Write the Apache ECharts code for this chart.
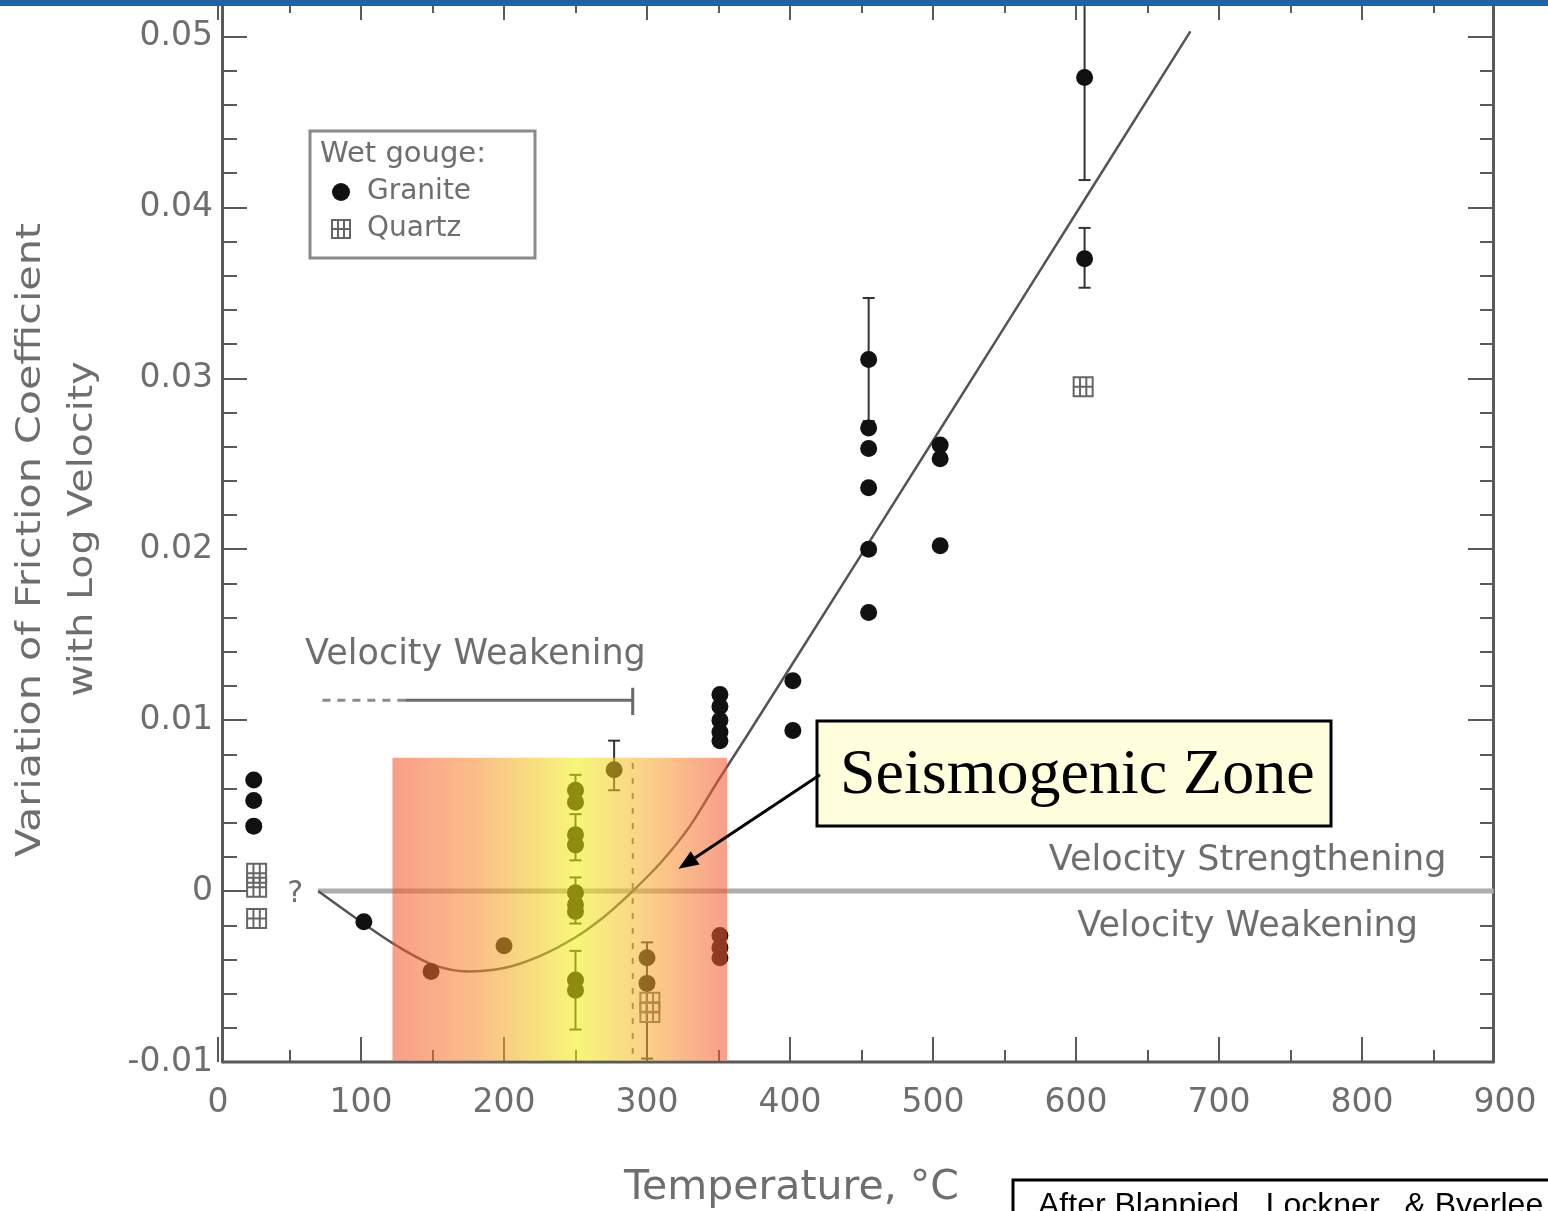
<!DOCTYPE html>
<html>
<head>
<meta charset="utf-8">
<script src="https://cdn.jsdelivr.net/npm/echarts@6/dist/echarts.min.js"></script>
<style>
html,body{margin:0;padding:0;background:#fff;}
#c{width:1548px;height:1211px;}
</style>
</head>
<body>
<div id="c"></div>
<script>
// ---------------- data ----------------
const xTickValues = [0, 100, 200, 300, 400, 500, 600, 700, 800, 900];
const yTickValues = [-0.01, 0, 0.01, 0.02, 0.03, 0.04, 0.05];

const graniteTemps = [25, 25, 25, 102, 149, 200,
  250, 250, 250, 250, 250, 250, 250, 250, 250,
  277, 300, 300,
  351, 351, 351, 351, 351, 351, 351, 351,
  402, 402,
  455, 455, 455, 455, 455, 455,
  505, 505, 505,
  606, 606];
const graniteValues = [0.0065, 0.0053, 0.0038, -0.0018, -0.0047, -0.0032,
  0.0059, 0.0052, 0.0033, 0.0027, -0.0001, -0.0008, -0.0012, -0.0052, -0.0058,
  0.0071, -0.0039, -0.0054,
  0.0115, 0.0108, 0.0100, 0.0093, 0.0088, -0.0026, -0.0033, -0.0039,
  0.0123, 0.0094,
  0.0311, 0.0271, 0.0259, 0.0236, 0.0200, 0.0163,
  0.0261, 0.0253, 0.0202,
  0.0476, 0.0370];

const quartzTemps = [27, 27, 27, 302, 302, 605];
const quartzValues = [0.00105, 0.00023, -0.0016, -0.0065, -0.0071, 0.0295];

// error bars: temperature, low, high
const errTemps = [606, 606, 455, 277, 250, 250, 250, 250, 300];
const errLow   = [0.0416, 0.0353, 0.0275, 0.0059, 0.0050, 0.0018, -0.0019, -0.0081, -0.0098];
const errHigh  = [0.0560, 0.0388, 0.0347, 0.0088, 0.0068, 0.0045, 0.0008, -0.0035, -0.0030];

// fitted trend curve
const curveTemps  = [70, 100, 125, 150, 175, 200, 225, 250, 270, 290, 310, 330, 350, 370, 450, 550, 680];
const curveValues = [0.0000, -0.0018, -0.0032, -0.0043, -0.0047, -0.0045, -0.0038, -0.0027, -0.0015, 0.0000, 0.0017, 0.0038, 0.0065, 0.0091, 0.0197, 0.0330, 0.0503];

// zero (strengthening / weakening) boundary
const zeroLineTemps = [70, 892];
const zeroLineValues = [0, 0];

// velocity weakening bracket
const bracketDashTemps = [73, 131];
const bracketSolidTemps = [131, 290];
const bracketLevel = 0.01117;
const bracketEndTick = [0.0119, 0.0103];
const dashedDropTemp = 290;
const dashedDropRange = [0.0075, -0.0100];

// seismogenic zone
const zoneTemps = [122, 356];
const zoneValues = [-0.01, 0.0078];

// ---------------- chart ----------------
const chart = echarts.init(document.getElementById('c'), null, {renderer: 'canvas'});
const FONT = 'DejaVu Sans';
const GRAY = '#6e6e6e';
const AX = '#5a5a5a';

const pairs = (xs, ys) => xs.map((x, i) => [x, ys[i]]);
const yLab = v => (Math.abs(v) < 1e-9 ? '0' : v.toFixed(2));
const innerXTicks = xTickValues.slice(0, -1);

const option = {
  backgroundColor: '#ffffff',
  animation: false,
  grid: {left: 218, right: 43, top: 4, bottom: 149, containLabel: false, outerBoundsMode: 'none'},
  legend: {
    data: ['Granite', 'Quartz'],
    orient: 'vertical',
    left: 326, top: 173,
    itemWidth: 18, itemHeight: 18, itemGap: 9, itemTextGap: 23,
    selectedMode: false,
    textStyle: {fontFamily: FONT, fontSize: 28, color: GRAY, padding: [0, 0, 0, 12]}
  },
  xAxis: [{
    type: 'value', min: 0, max: 900, interval: 100, position: 'bottom',
    axisLine: {show: false, onZero: false},
    axisTick: {show: true, inside: true, length: 25, customValues: innerXTicks, lineStyle: {color: AX, width: 2}},
    minorTick: {show: true, splitNumber: 2, length: 12, lineStyle: {color: AX, width: 2}},
    splitLine: {show: false},
    axisLabel: {margin: 25, fontFamily: FONT, fontSize: 33, color: GRAY, customValues: xTickValues}
  }, {
    type: 'value', min: 0, max: 900, interval: 100, position: 'top',
    axisLine: {show: false, onZero: false},
    axisTick: {show: true, inside: true, length: 16, customValues: innerXTicks, lineStyle: {color: AX, width: 2}},
    minorTick: {show: true, splitNumber: 2, length: 9, lineStyle: {color: AX, width: 2}},
    splitLine: {show: false},
    axisLabel: {show: false}
  }],
  yAxis: [{
    type: 'value', min: -0.01, max: 0.0519, interval: 0.01, position: 'left', offset: -4,
    axisLine: {show: true, onZero: false, lineStyle: {color: AX, width: 3}},
    axisTick: {show: true, inside: true, length: 25, lineStyle: {color: AX, width: 2}},
    minorTick: {show: true, splitNumber: 5, length: 15, lineStyle: {color: AX, width: 2}},
    splitLine: {show: false},
    axisLabel: {margin: 9, fontFamily: FONT, fontSize: 33, color: GRAY, formatter: yLab, showMaxLabel: false}
  }, {
    type: 'value', min: -0.01, max: 0.0519, interval: 0.01, position: 'right', offset: -12,
    axisLine: {show: true, onZero: false, lineStyle: {color: AX, width: 3}},
    axisTick: {show: true, inside: true, length: 25, lineStyle: {color: AX, width: 2}},
    minorTick: {show: true, splitNumber: 5, length: 13, lineStyle: {color: AX, width: 2}},
    splitLine: {show: false},
    axisLabel: {show: false}
  }],
  series: [
    {
      name: 'frame', type: 'line', silent: true, clip: false, showSymbol: false, z: 1,
      data: [[3, -0.01], [892, -0.01]],
      lineStyle: {color: AX, width: 3}
    },
    {
      name: 'zero', type: 'line', silent: true, showSymbol: false, z: 1,
      data: pairs(zeroLineTemps, zeroLineValues),
      lineStyle: {color: '#aeaeae', width: 5}
    },
    {
      name: 'bracketDash', type: 'line', silent: true, showSymbol: false, z: 2,
      data: bracketDashTemps.map(t => [t, bracketLevel]),
      lineStyle: {color: '#8a8a8a', width: 3, type: [8, 7]}
    },
    {
      name: 'bracketSolid', type: 'line', silent: true, showSymbol: false, z: 2,
      data: bracketSolidTemps.map(t => [t, bracketLevel]),
      lineStyle: {color: '#6a6a6a', width: 3}
    },
    {
      name: 'bracketEnd', type: 'line', silent: true, showSymbol: false, z: 2,
      data: bracketEndTick.map(v => [bracketSolidTemps[1], v]),
      lineStyle: {color: '#6a6a6a', width: 3}
    },
    {
      name: 'dashedDrop', type: 'line', silent: true, showSymbol: false, z: 2,
      data: dashedDropRange.map(v => [dashedDropTemp, v]),
      lineStyle: {color: '#6a6a6a', width: 2, type: [6, 9]}
    },
    {
      name: 'trend', type: 'line', silent: true, showSymbol: false, smooth: 0.3, z: 2,
      data: pairs(curveTemps, curveValues),
      lineStyle: {color: '#555', width: 2.5}
    },
    {
      name: 'errors', type: 'custom', silent: true, z: 2, clip: true,
      data: errTemps.map((t, i) => [t, errLow[i], errHigh[i]]),
      encode: {x: 0, y: [1, 2]},
      renderItem: function (params, api) {
        const x = api.value(0);
        const lo = api.coord([x, api.value(1)]);
        const hi = api.coord([x, api.value(2)]);
        const w = 6;
        const st = {stroke: '#333', lineWidth: 2};
        return {type: 'group', children: [
          {type: 'line', shape: {x1: lo[0], y1: lo[1], x2: hi[0], y2: hi[1]}, style: st},
          {type: 'line', shape: {x1: lo[0] - w, y1: lo[1], x2: lo[0] + w, y2: lo[1]}, style: st},
          {type: 'line', shape: {x1: hi[0] - w, y1: hi[1], x2: hi[0] + w, y2: hi[1]}, style: st}
        ]};
      }
    },
    {
      name: 'Granite', type: 'scatter', symbol: 'circle', symbolSize: 17, z: 3,
      data: pairs(graniteTemps, graniteValues),
      itemStyle: {color: '#111', opacity: 1}
    },
    {
      name: 'Quartz', type: 'scatter', z: 3,
      symbol: 'path://M0,0H10V10H0Z M3.33,0V10 M6.67,0V10 M0,5H10',
      symbolSize: 19,
      data: pairs(quartzTemps, quartzValues),
      itemStyle: {color: 'rgba(255,255,255,0)', borderColor: '#666', borderWidth: 2, opacity: 1}
    },
    {
      name: 'zone', type: 'custom', silent: true, z: 4,
      data: [[zoneTemps[0], zoneValues[0], zoneTemps[1], zoneValues[1]]],
      encode: {x: [0, 2], y: [1, 3]},
      renderItem: function (params, api) {
        const a = api.coord([api.value(0), api.value(3)]);
        const b = api.coord([api.value(2), api.value(1)]);
        return {
          type: 'rect',
          shape: {x: a[0], y: a[1], width: b[0] - a[0], height: b[1] - a[1] - 1.5},
          style: {
            fill: {type: 'linear', x: 0, y: 0, x2: 1, y2: 0, colorStops: [
              {offset: 0, color: '#f4522c'},
              {offset: 0.25, color: '#f68a2c'},
              {offset: 0.55, color: '#f0ee10'},
              {offset: 0.75, color: '#f8ae2e'},
              {offset: 1, color: '#f4522e'}
            ]},
            opacity: 0.56
          }
        };
      }
    }
  ]
};
chart.setOption(option);

// --------- annotations ---------
const P = (x, y) => chart.convertToPixel({xAxisIndex: 0, yAxisIndex: 0}, [x, y]);

function arrow(x1, y1, x2, y2, head, half) {
  const dx = x2 - x1, dy = y2 - y1, L = Math.hypot(dx, dy);
  const ux = dx / L, uy = dy / L;
  const bx = x2 - head * ux, by = y2 - head * uy;
  const px = -uy, py = ux;
  return [
    {type: 'line', z: 101, shape: {x1: x1, y1: y1, x2: bx, y2: by}, style: {stroke: '#000', lineWidth: 3}},
    {type: 'polygon', z: 101, shape: {points: [[x2, y2], [bx + half * px, by + half * py], [bx - half * px, by - half * py]]}, style: {fill: '#000'}}
  ];
}

const pQ = P(54, -0.0002);
const pVW = P(180, 0.0138);
const pVS = P(720, 0.00175);
const pVW2 = P(720, -0.0021);
const pT = P(401, -0.0174);
const arrFrom = P(421, 0.0068);
const arrTo = P(322, 0.0013);

const txt = (x, y, s, size, align, extra) => Object.assign({
  type: 'text', x: x, y: y, z: 50,
  style: {text: s, fill: GRAY, font: size + 'px "' + FONT + '"', textAlign: align || 'center', textVerticalAlign: 'middle'}
}, extra || {});

chart.setOption({
  graphic: [
    {type: 'rect', z: 100, shape: {x: 0, y: 0, width: 1548, height: 6}, style: {fill: '#1f63a6'}},
    // legend frame
    {type: 'rect', z: 50, shape: {x: 310, y: 131, width: 225, height: 127}, style: {fill: 'none', stroke: '#8a8a8a', lineWidth: 3}},
    txt(320, 154, 'Wet gouge:', 29, 'left'),
    // y-axis title
    txt(31, 540, 'Variation of Friction Coefficient', 33, 'center', {rotation: Math.PI / 2, scaleX: 1.25}),
    txt(83, 529, 'with Log Velocity', 33, 'center', {rotation: Math.PI / 2, scaleX: 1.2}),
    // x-axis title
    txt(pT[0], pT[1], 'Temperature, \u00B0C', 41, 'center'),
    txt(pQ[0], pQ[1], '?', 30, 'center'),
    txt(pVW[0], pVW[1], 'Velocity Weakening', 35, 'center'),
    txt(pVS[0], pVS[1], 'Velocity Strengthening', 35, 'center'),
    txt(pVW2[0], pVW2[1], 'Velocity Weakening', 35, 'center'),
    // seismogenic zone callout
    {type: 'rect', z: 100, shape: {x: 817, y: 721, width: 514, height: 105}, style: {fill: '#ffffdd', stroke: '#000', lineWidth: 3}},
    {type: 'text', z: 101, x: 840, y: 776, style: {text: 'Seismogenic Zone', fill: '#000', font: '64px "Liberation Serif"', textAlign: 'left', textVerticalAlign: 'middle'}},
    ...arrow(arrFrom[0], arrFrom[1], arrTo[0], arrTo[1], 20, 8),
    // source credit
    {type: 'rect', z: 100, shape: {x: 1013, y: 1180, width: 560, height: 60}, style: {fill: '#fff', stroke: '#000', lineWidth: 3}},
    {type: 'text', z: 101, x: 1038, y: 1190, style: {text: 'After Blanpied,  Lockner,  & Byerlee (1995)', fill: '#000', font: '32px "Liberation Sans"', textAlign: 'left', textVerticalAlign: 'top'}}
  ]
});
</script>
</body>
</html>
